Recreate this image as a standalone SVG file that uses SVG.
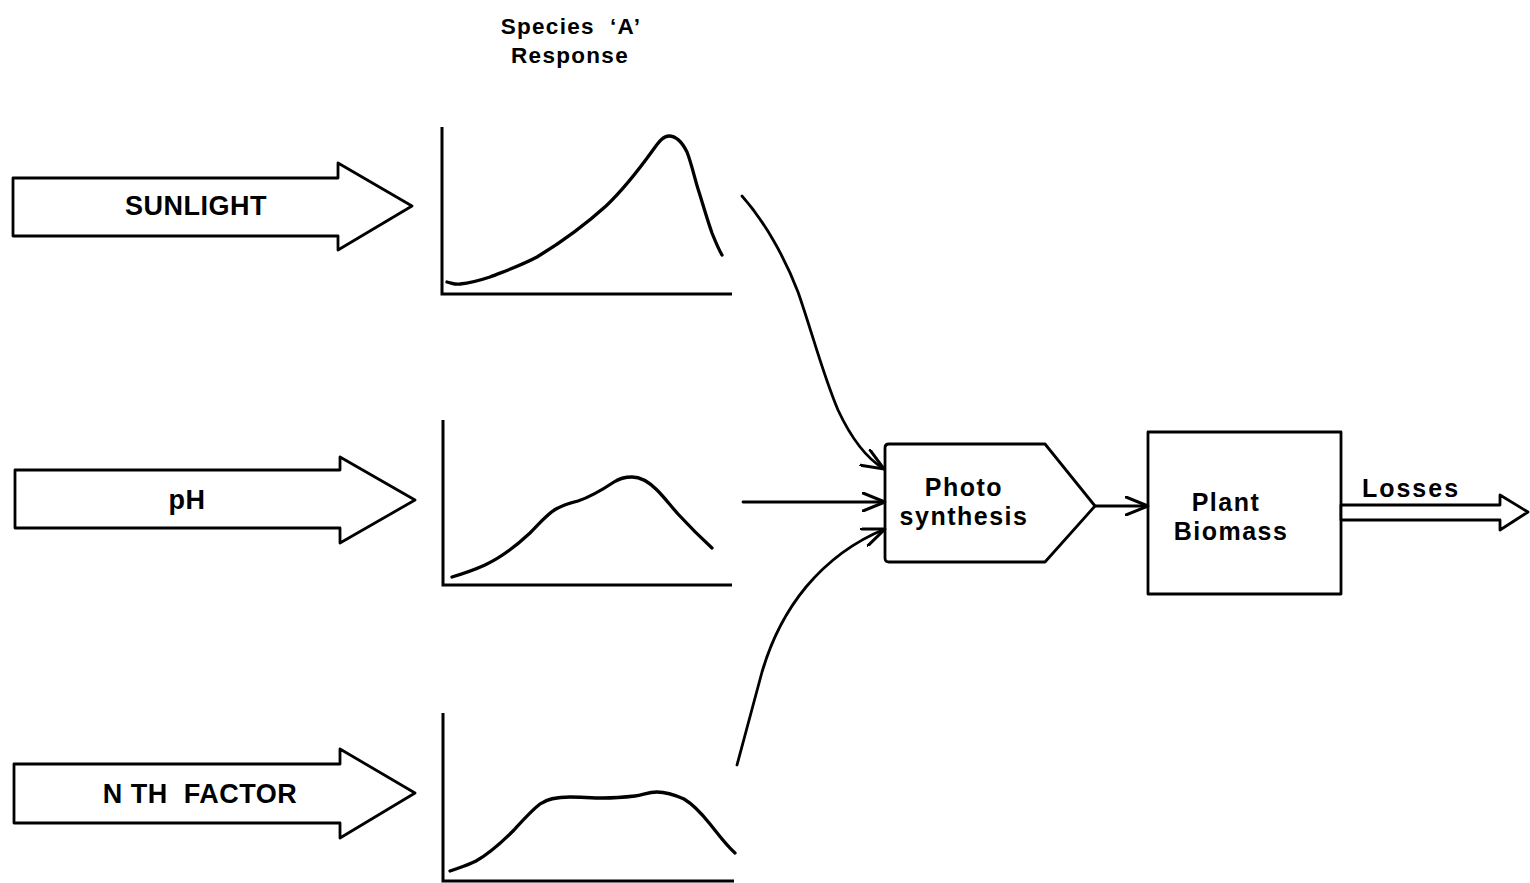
<svg xmlns="http://www.w3.org/2000/svg" width="1530" height="883" viewBox="0 0 1530 883">
  <defs>
    <style>
      .shape { fill: #ffffff; stroke: #000000; stroke-width: 2.8; stroke-linejoin: round; }
      .line { fill: none; stroke: #000000; stroke-width: 2.8; stroke-linecap: round; stroke-linejoin: round; }
      .axis { fill: none; stroke: #000000; stroke-width: 3; }
      .curve { fill: none; stroke: #000000; stroke-width: 3.3; stroke-linecap: round; stroke-linejoin: round; }
      .label { font-family: "Liberation Sans", Arial, sans-serif; font-weight: bold; fill: #000000; text-anchor: middle; }
    </style>
    <marker id="openHead" viewBox="0 0 24 20" refX="23" refY="10" markerWidth="24" markerHeight="20" markerUnits="userSpaceOnUse" orient="auto">
      <path d="M1,1 L23,10 L1,19" fill="none" stroke="#000000" stroke-width="3" stroke-linecap="round" stroke-linejoin="miter"/>
    </marker>
  </defs>

  <rect width="1530" height="883" fill="#ffffff"/>

  <!-- heading over the response curves -->
  <g id="title">
    <text class="label" x="571" y="34" font-size="22.5" letter-spacing="1.3" xml:space="preserve">Species  ‘A’</text>
    <text class="label" x="570" y="63" font-size="22.5" letter-spacing="1.3">Response</text>
  </g>

  <!-- input factors (block arrows) -->
  <g id="sunlight">
    <polygon class="shape" points="13,178 338,178 338,163 412,206 338,250 338,236 13,236"/>
    <text class="label" x="196" y="215" font-size="27" letter-spacing="0.5">SUNLIGHT</text>
  </g>
  <g id="ph">
    <polygon class="shape" points="15,470 340,470 340,457 415,500 340,543 340,528 15,528"/>
    <text class="label" x="187" y="509" font-size="27" letter-spacing="0.5">pH</text>
  </g>
  <g id="nth-factor">
    <polygon class="shape" points="14,764 340,764 340,749 415,793 340,838 340,823 14,823"/>
    <text class="label" x="200" y="803" font-size="27" letter-spacing="0.5" xml:space="preserve">N TH  FACTOR</text>
  </g>

  <!-- response curves -->
  <g id="response-sunlight">
    <path class="axis" d="M442,127 L442,294 L732,294"/>
    <path class="curve" d="M447,282 C452,283 455,285 460,284 C470,283 478,281 490,277 C505,271 520,266 537,257 C560,243 585,225 606,206 C625,188 640,168 653,150 C660,140 664,136 669,136 C676,136 682,142 687,152 C692,165 695,180 699,192 C704,208 708,222 712,233 C716,243 719,250 722,255"/>
  </g>
  <g id="response-ph">
    <path class="axis" d="M443,420 L443,585 L732,585"/>
    <path class="curve" d="M452,577 C462,574 472,571 485,565 C500,558 515,547 530,533 C540,523 547,514 556,509 C563,505 570,503 578,501 C590,497 602,490 614,482 C620,478 625,477 632,477 C641,477 649,482 657,490 C664,497 670,505 678,514 C690,527 700,537 712,548"/>
  </g>
  <g id="response-nth">
    <path class="axis" d="M443,713 L443,881 L734,881"/>
    <path class="curve" d="M450,871 C458,868 466,866 476,861 C490,853 502,842 514,830 C524,819 531,811 540,804 C548,798 558,797 570,797 C580,797 592,798 603,798 C615,798 626,797 635,796 C643,795 648,792 657,792 C666,792 675,795 684,799 C694,805 702,814 710,824 C718,834 726,845 735,853"/>
  </g>

  <!-- processing blocks -->
  <g id="photosynthesis">
    <path class="shape" d="M889,444 L1045,444 L1095,506 L1045,562 L889,562 Q885,562 885,558 L885,448 Q885,444 889,444 Z"/>
    <text class="label" x="964" y="496" font-size="25" letter-spacing="1.5">Photo</text>
    <text class="label" x="964" y="525" font-size="25" letter-spacing="1.5">synthesis</text>
  </g>
  <g id="plant-biomass">
    <rect class="shape" x="1148" y="432" width="193" height="162"/>
    <text class="label" x="1226" y="511" font-size="25" letter-spacing="1.5">Plant</text>
    <text class="label" x="1231" y="540" font-size="25" letter-spacing="1.5">Biomass</text>
  </g>
  <g id="losses">
    <polygon class="shape" points="1341,505 1500,505 1500,495 1528,512 1500,530 1500,520 1341,520"/>
    <text class="label" x="1411" y="497" font-size="25" letter-spacing="2">Losses</text>
  </g>

  <!-- connectors -->
  <g id="connectors">
    <path class="line" marker-end="url(#openHead)" d="M742,196 C765,222 785,258 798,292 C812,332 823,375 838,410 C852,440 866,458 884,469"/>
    <path class="line" marker-end="url(#openHead)" d="M743,502 L885,502"/>
    <path class="line" marker-end="url(#openHead)" d="M737,765 C745,735 753,705 762,672 C772,638 787,610 806,587 C827,562 853,542 885,529"/>
    <path class="line" marker-end="url(#openHead)" d="M1095,506 L1148,506"/>
  </g>
</svg>
